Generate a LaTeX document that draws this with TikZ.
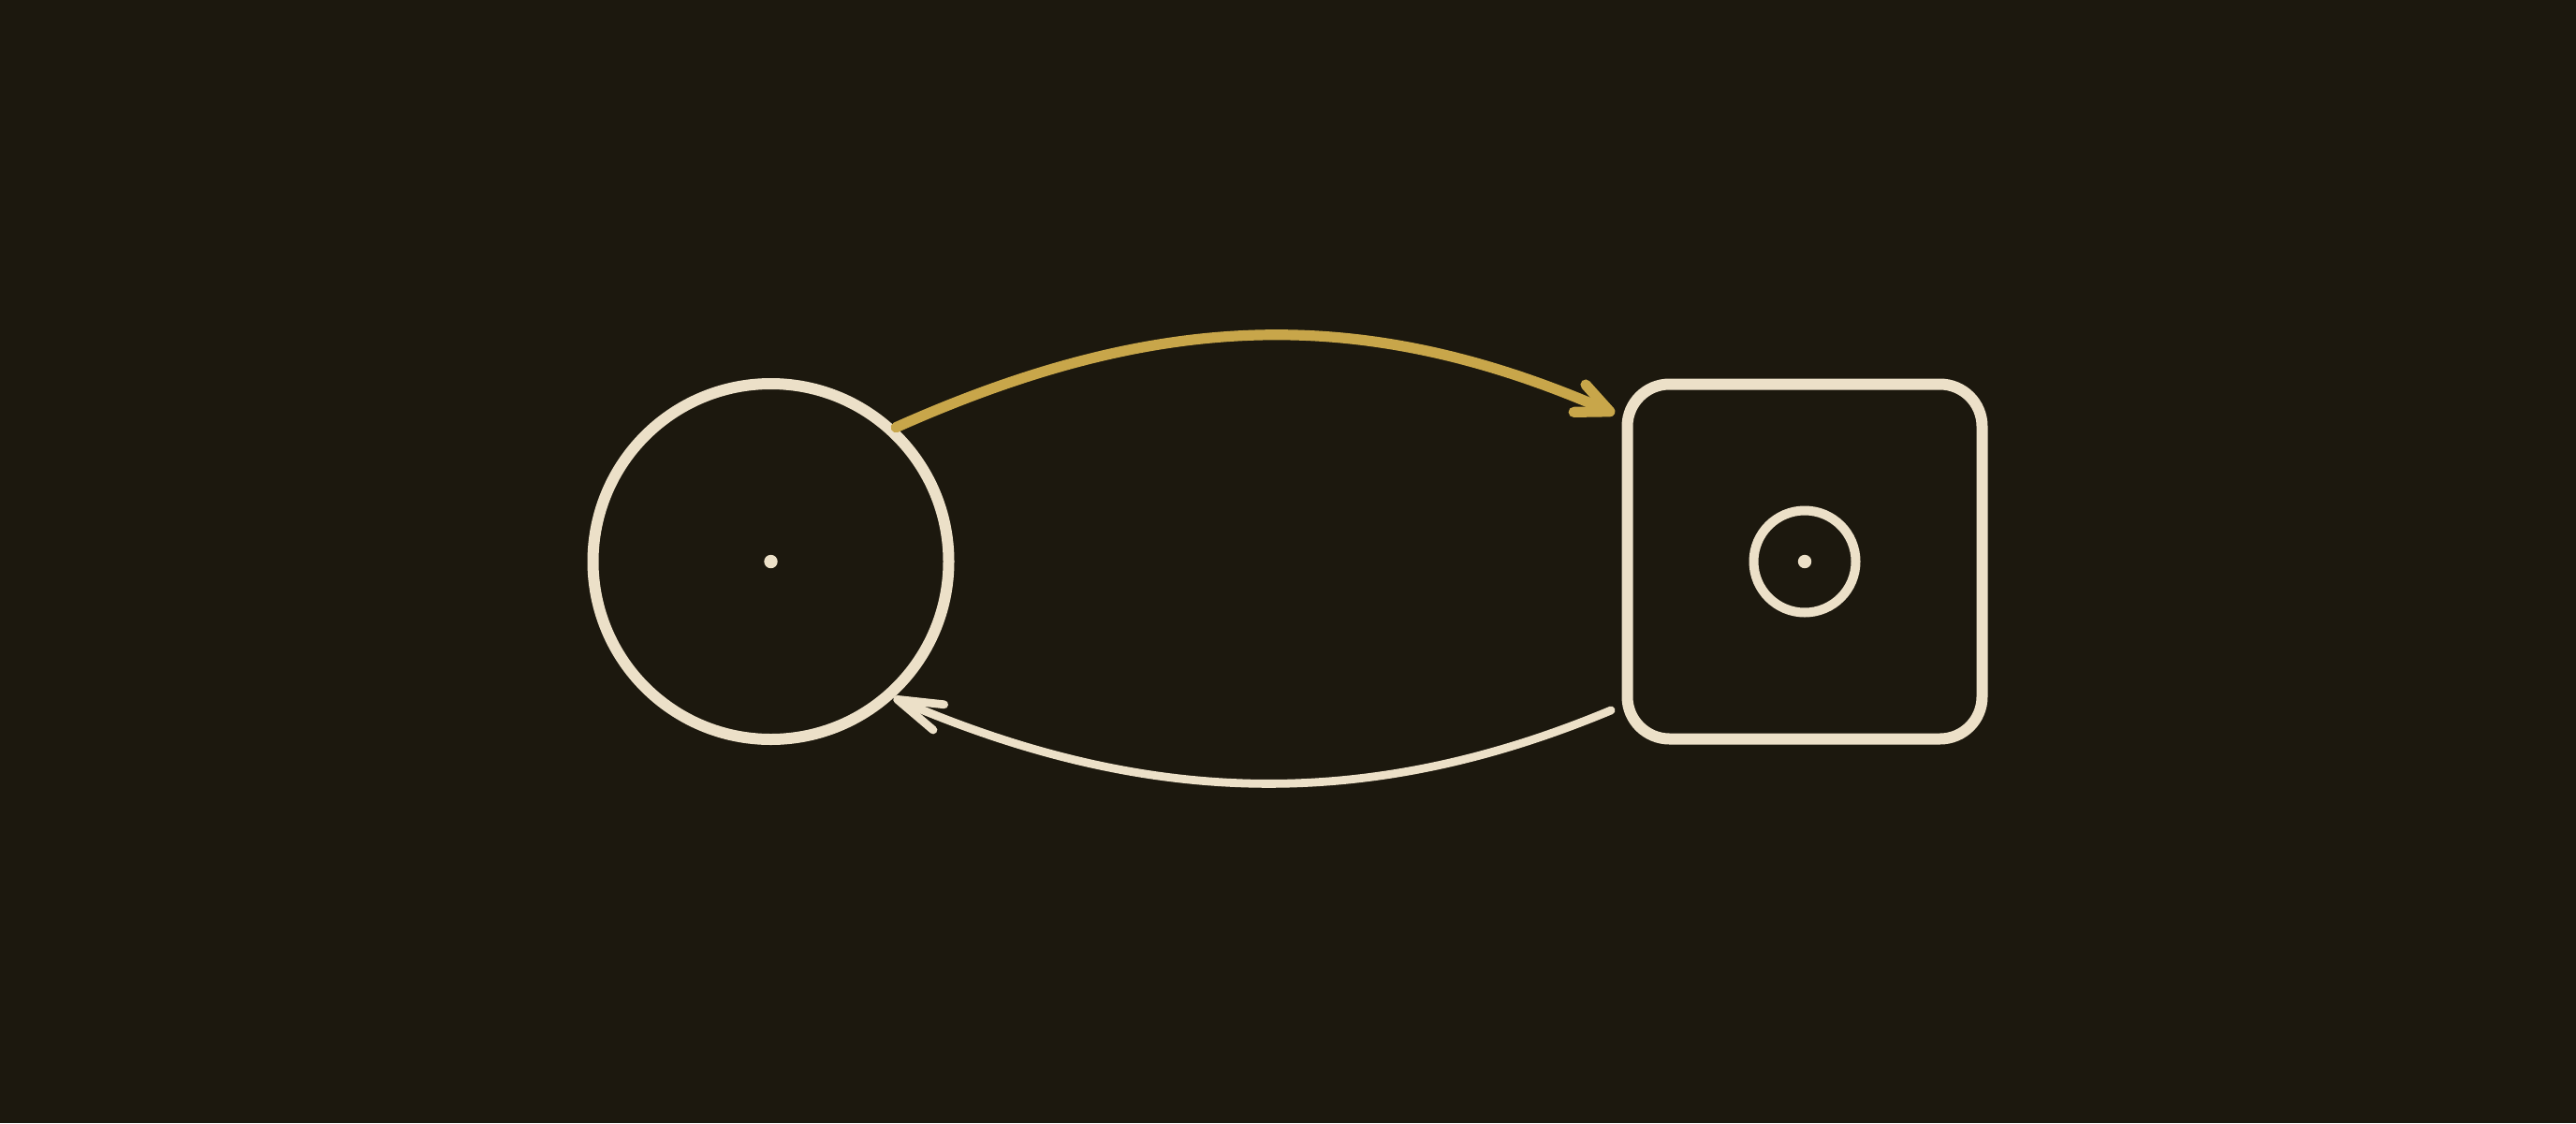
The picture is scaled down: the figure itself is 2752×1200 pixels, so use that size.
\documentclass[tikz,border=0pt]{standalone}
\usetikzlibrary{arrows.meta,calc}
\definecolor{bg}{HTML}{1C180E}
\definecolor{cream}{HTML}{ECE0C8}
\definecolor{gold}{HTML}{C8A64A}
\begin{document}
\begin{tikzpicture}[x=0.25pt,y=-0.25pt,
  ring/.style={draw=cream,circle,line width=3pt,inner sep=0pt},
  boxnode/.style={draw=cream,rectangle,rounded corners=11.25pt,line width=3pt,inner sep=0pt,minimum size=94.75pt},
  dotnode/.style={fill=cream,circle,inner sep=0pt,minimum size=3.6pt},
  goldlink/.style={draw=gold,line width=2.8pt,line cap=round,-{Straight Barb[length=8.8pt,width=8pt,round]}},
  creamlink/.style={draw=cream,line width=2.2pt,line cap=round,-{Straight Barb[length=12pt,width=7.4pt,round]}}]
\fill[bg] (0,0) rectangle (2752,1200);
\useasboundingbox (0,0) rectangle (2752,1200);
\node[ring,minimum size=95pt] (src) at (823.5,600) {};
\node[dotnode] (srcdot) at (src.center) {};
\node[boxnode] (dst) at (1928,600) {};
\node[ring,line width=2.5pt,minimum size=27.25pt] (inner) at (dst.center) {};
\node[dotnode] (innerdot) at (inner.center) {};
\coordinate (t1) at ($(dst.center)+(-203,-158)$);
\coordinate (s2) at ($(dst.center)+(-207,159)$);
\draw[goldlink] (src.47) .. controls (1230,335) and (1450,322) .. (t1);
\draw[creamlink] (s2) .. controls (1460,868) and (1225,862) .. (src.-48);
\end{tikzpicture}
\end{document}
